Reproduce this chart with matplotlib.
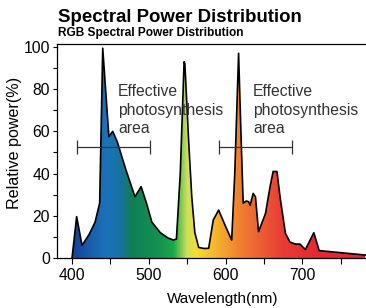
import numpy as np
import matplotlib
matplotlib.use('Agg')
import matplotlib.pyplot as plt
from matplotlib.colors import LinearSegmentedColormap
from matplotlib.patches import Polygon

plt.rcParams['font.family'] = ['Liberation Sans', 'DejaVu Sans']

# spectrum (nm, relative power %)
wavelength = [400, 406, 413, 422, 430, 436, 440, 448, 453, 459, 470, 482, 490,
              497, 504, 515, 525, 532, 536, 541, 546, 547, 552, 556, 560, 565,
              572, 578, 584, 591, 600, 608, 612, 617, 620, 623, 627, 630, 632,
              636, 639, 643, 652, 658, 662, 667, 671, 678, 684, 691, 697, 704,
              715, 722, 782]
power = [0, 19.6, 6, 11, 17, 26, 99.4, 57.5, 60, 55, 42, 29, 33.8,
         26, 17, 12, 9.5, 8.5, 9, 40, 93, 92, 55, 29, 12, 5,
         4.5, 4.6, 18, 22.7, 15, 8.5, 40, 97, 60, 26, 27, 26.7, 25,
         30.6, 29, 12.5, 21, 33.8, 41, 41, 29, 11.7, 7.5, 6.6, 6.6, 4,
         12, 3.5, 1.4]

# colour stops of the gradient fill
grad_nm = [400, 420, 445, 462, 478, 510, 532, 550, 562, 585, 615, 645, 675, 720, 785]
grad_col = ['#173f93', '#1a5aa8', '#1c74ba', '#1672a0', '#117f55', '#139050',
            '#18a94a', '#cfe05a', '#f4dc30', '#f6b830', '#f0862f', '#ec5f34',
            '#e83c35', '#e52836', '#e42436']

bar_left = [407, 502]
bar_right = [592, 687]
bar_y = 52.5

fs = 11.3

fig = plt.figure(figsize=(3.66, 3.08), dpi=100)
ax = fig.add_axes([57/366, 50/308, 309/366, 214/308])

x0, x1 = 380.4, 783
ax.set_xlim(x0, x1)
ax.set_ylim(0, 101.4)

# gradient clipped to the spectrum shape
pos = [(v - grad_nm[0]) / (grad_nm[-1] - grad_nm[0]) for v in grad_nm]
cmap = LinearSegmentedColormap.from_list('spd', list(zip(pos, grad_col)))
xs = np.linspace(grad_nm[0], grad_nm[-1], 600)
im = ax.imshow(xs[np.newaxis, :], cmap=cmap, aspect='auto',
               extent=[grad_nm[0], grad_nm[-1], 0, 101.4], origin='lower', zorder=1)
poly = Polygon(list(zip(wavelength, power)) + [(wavelength[-1], 0), (wavelength[0], 0)],
               closed=True, facecolor='none', edgecolor='none')
ax.add_patch(poly)
im.set_clip_path(poly)
ax.plot(wavelength, power, color='black', lw=1.2, zorder=3)

# effective photosynthesis ranges
for b in (bar_left, bar_right):
    ax.errorbar([(b[0] + b[1]) / 2], [bar_y], xerr=[(b[1] - b[0]) / 2], color='#333333',
                lw=0.9, capsize=5, capthick=0.9, zorder=4)
txt = 'Effective\nphotosynthesis\narea'
ax.text(460, 59.2, txt, fontsize=fs, color='#333333', va='baseline', ha='left',
        linespacing=1.29, zorder=5)
ax.text(636, 59.2, txt, fontsize=fs, color='#333333', va='baseline', ha='left',
        linespacing=1.29, zorder=5)

ax.set_xticks([400, 500, 600, 700])
ax.set_xticks([450, 550, 650, 750], minor=True)
ax.set_yticks([0, 20, 40, 60, 80, 100])
ax.set_yticks([10, 30, 50, 70, 90], minor=True)
ax.tick_params(axis='both', which='both', direction='out', width=0.8, labelsize=fs)
ax.tick_params(axis='x', which='both', length=4.5, pad=3)
ax.tick_params(axis='y', which='both', length=3, pad=2)
ax.spines['right'].set_visible(False)
for s in ('left', 'top', 'bottom'):
    ax.spines[s].set_linewidth(0.9)

ax.set_xlabel('Wavelength(nm)', fontsize=11, va='baseline')
ax.xaxis.set_label_coords(0.5356, -0.2117)
ax.set_ylabel('Relative power(%)', fontsize=11.6, va='center')
ax.yaxis.set_label_coords(-0.136, 0.54)

fig.text(58/366, 1 - 21.5/308, 'Spectral Power Distribution', fontsize=13.4,
         fontweight='bold', ha='left', va='baseline')
fig.text(58/366, 1 - 36/308, 'RGB Spectral Power Distribution', fontsize=8.6,
         fontweight='bold', ha='left', va='baseline')

fig.savefig('out.png', dpi=100)
plt.close(fig)
